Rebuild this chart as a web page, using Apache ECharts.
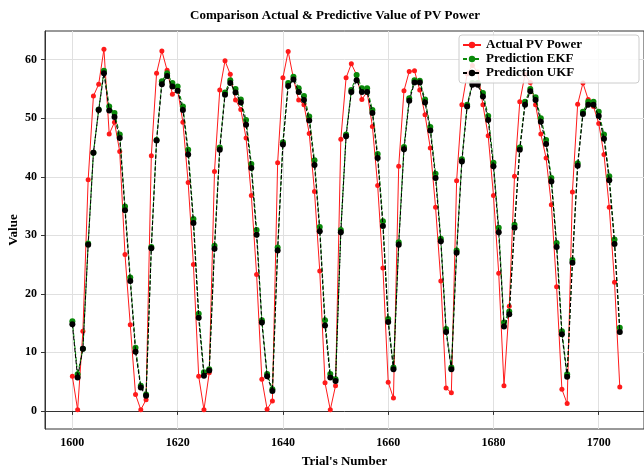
<!DOCTYPE html>
<html>
<head>
<meta charset="utf-8">
<script src="https://cdn.jsdelivr.net/npm/echarts@6/dist/echarts.min.js"></script>
<style>
  html, body { margin: 0; padding: 0; background: #fff; }
  #chart { width: 644px; height: 467px; }
</style>
</head>
<body>
<div id="chart"></div>
<script>
// trial numbers run 1600 .. 1704
const trialStart = 1600;

const actualPV = [
  5.9, 0.2, 13.6, 39.5, 53.8, 55.8, 61.8, 47.3, 49.3, 44.3, 26.7, 14.7, 2.8, 0.2, 1.9, 43.6, 57.7, 61.5,
  58.2, 54.1, 54.8, 49.3, 39, 25, 5.9, 0.2, 6.5, 40.9, 54.8, 59.8, 57.5, 53.1, 51.5, 46.6, 36.8, 23.3,
  5.4, 0.3, 1.7, 42.4, 56.9, 61.4, 56.8, 53.1, 52.3, 47.4, 37.5, 23.9, 4.8, 0.2, 4.3, 46.4, 56.9, 59.3,
  57.4, 53.2, 54.5, 48.6, 38.5, 24.4, 4.9, 2.2, 41.8, 54.7, 58, 58.1, 54.8, 50.6, 44.9, 34.8, 22.2, 3.9,
  3.1, 39.3, 52.3, 57.6, 59, 57.9, 52.3, 47, 36.8, 23.5, 4.3, 17.9, 40.1, 52.8, 57.5, 56.1, 52.3, 47.3,
  43.2, 35.2, 21.2, 3.7, 1.25, 37.4, 52.4, 56, 53.2, 52, 49.1, 43.8, 34.8, 22, 4.1
];

const predEKF = [
  15.3, 6.25, 10.6, 28.6, 44.1, 51.5, 58.1, 52, 50.9, 47.2, 34.9, 22.8, 10.8, 4.3, 2.8, 28, 46.3, 56.3,
  57.7, 56, 55.4, 52, 44.6, 32.8, 16.6, 6.6, 7.1, 28.2, 45, 54.4, 56.5, 55, 53.2, 49.7, 42.2, 30.9,
  15.5, 6.3, 3.7, 27.9, 45.9, 56, 57.1, 55.1, 53.8, 50.3, 42.8, 31.4, 15.5, 6.3, 5.4, 30.9, 47.2, 54.8,
  57.4, 55.1, 55.1, 51.4, 43.9, 32.4, 15.7, 7.4, 28.8, 45.1, 53.4, 56.5, 56.4, 53.2, 48.5, 40.5, 29.4, 14,
  7.4, 27.4, 43, 52.3, 56, 56, 54.3, 50.4, 42.4, 31.3, 15.1, 17, 31.8, 45, 52.8, 55, 53.6, 50,
  46.3, 39.8, 28.7, 13.6, 6.25, 25.8, 42.3, 51.1, 52.8, 52.8, 51.1, 47.2, 40.1, 29.3, 14.2
];

const predUKF = [
  14.8, 5.7, 10.6, 28.4, 44.1, 51.4, 57.7, 51.3, 50.2, 46.6, 34.3, 22.2, 10.1, 4.0, 2.6, 27.8, 46.2, 55.8,
  57.2, 55.4, 54.7, 51.4, 43.8, 32.1, 15.9, 6, 6.9, 27.7, 44.6, 54, 56, 54.4, 52.7, 48.9, 41.5, 30.1,
  15.1, 5.9, 3.4, 27.4, 45.5, 55.5, 56.6, 54.5, 53.1, 49.6, 42, 30.7, 14.6, 5.7, 5.1, 30.5, 46.9, 54.5,
  56.5, 54.5, 54.5, 50.9, 43.2, 31.6, 15.2, 7.1, 28.4, 44.7, 53, 56.1, 56.1, 52.7, 47.9, 39.8, 29, 13.5,
  7.1, 27, 42.6, 52, 55.7, 55.7, 53.7, 49.7, 41.8, 30.5, 14.4, 16.5, 31.3, 44.6, 52.3, 54.6, 53.1, 49.4,
  45.6, 39.2, 28, 13.1, 5.85, 25.3, 41.9, 50.7, 52.3, 52.3, 50.4, 46.5, 39.4, 28.5, 13.5
];

const xTicks = [1600, 1620, 1640, 1660, 1680, 1700];
const yTicks = [0, 10, 20, 30, 40, 50, 60];

const trials = actualPV.map((v, i) => trialStart + i);
const toPairs = (arr) => arr.map((v, i) => [trials[i], v]);

const serifBold = {
  fontFamily: "Liberation Serif",
  fontWeight: "bold",
  color: "#000",
};

const chart = echarts.init(document.getElementById("chart"), null, { renderer: "canvas" });

const option = {
  animation: false,
  backgroundColor: "#fff",
  title: {
    text: "Comparison Actual & Predictive Value of PV Power",
    left: 185,
    top: 4,
    textStyle: { ...serifBold, fontSize: 13 },
  },
  grid: {
    left: 45,
    right: 0,
    top: 31,
    bottom: 38,
    outerBoundsMode: "none",
    show: true,
    borderColor: "#333",
    borderWidth: 1,
  },
  legend: {
    left: 459,
    top: 35,
    orient: "vertical",
    padding: [3, 3, 3, 3],
    itemWidth: 18,
    itemHeight: 8,
    itemGap: 0,
    backgroundColor: "rgba(255,255,255,0.85)",
    borderColor: "#ccc",
    borderWidth: 1,
    borderRadius: 3,
    z: 10,
    textStyle: { ...serifBold, fontSize: 13, lineHeight: 14, width: 150 },
    data: ["Actual PV Power", "Prediction EKF", "Prediction UKF"],
  },
  xAxis: {
    type: "value",
    min: 1594.8,
    max: 1708.6,
    name: "Trial's Number",
    nameLocation: "middle",
    nameGap: 26,
    nameMoveOverlap: false,
    nameTextStyle: { ...serifBold, fontSize: 13 },
    axisLine: { show: true, lineStyle: { color: "#333", width: 1 } },
    axisTick: { show: true, length: 4, customValues: xTicks, lineStyle: { color: "#333" } },
    axisLabel: {
      ...serifBold,
      fontSize: 12,
      margin: 8,
      customValues: xTicks,
      formatter: (v) => String(v),
    },
    splitLine: { show: true, lineStyle: { color: "#e0e0e0", width: 1 } },
  },
  yAxis: {
    type: "value",
    min: -3.09,
    max: 64.9,
    name: "Value",
    nameLocation: "middle",
    nameGap: 25,
    nameMoveOverlap: false,
    nameTextStyle: { ...serifBold, fontSize: 13 },
    axisLine: { show: true, lineStyle: { color: "#333", width: 1 } },
    axisTick: { show: true, length: 4, customValues: yTicks, lineStyle: { color: "#333" } },
    axisLabel: {
      ...serifBold,
      fontSize: 12,
      margin: 8,
      customValues: yTicks,
      formatter: (v) => String(v),
    },
    splitLine: { show: true, lineStyle: { color: "#e0e0e0", width: 1 } },
  },
  series: [
    {
      name: "Actual PV Power",
      type: "line",
      data: toPairs(actualPV),
      symbol: "circle",
      symbolSize: 5,
      color: "#ff1a1a",
      lineStyle: { color: "#ff1a1a", width: 1 },
      itemStyle: { color: "#ff1a1a" },
      z: 2,
    },
    {
      name: "Prediction EKF",
      type: "line",
      data: toPairs(predEKF),
      symbol: "circle",
      symbolSize: 6,
      color: "#0a8a0a",
      lineStyle: { color: "#0a8a0a", width: 1.1, type: [4, 2] },
      itemStyle: { color: "#0a8a0a" },
      z: 3,
    },
    {
      name: "Prediction UKF",
      type: "line",
      data: toPairs(predUKF),
      symbol: "circle",
      symbolSize: 6,
      color: "#000",
      lineStyle: { color: "#000", width: 1.1, type: [4, 2] },
      itemStyle: { color: "#000" },
      z: 4,
    },
  ],
};

chart.setOption(option);
</script>
</body>
</html>
